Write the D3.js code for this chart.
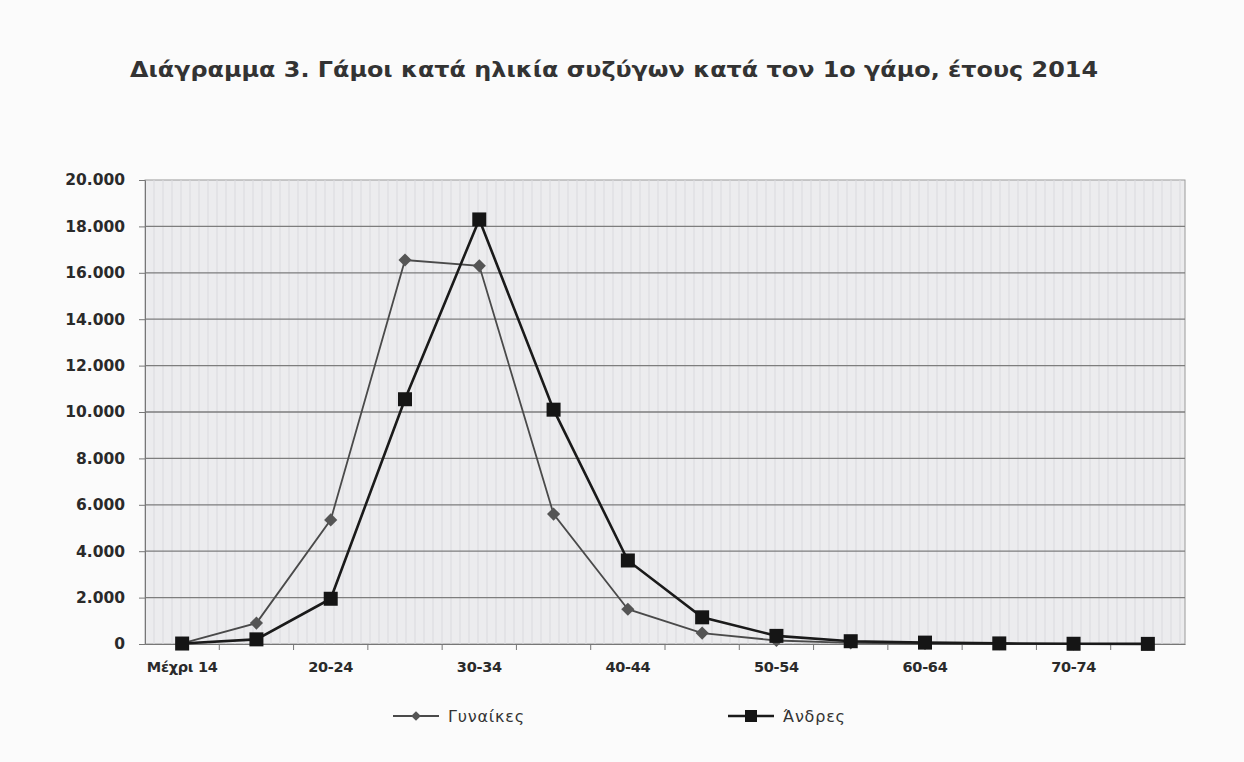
<!DOCTYPE html>
<html><head><meta charset="utf-8">
<script src="https://cdn.jsdelivr.net/npm/d3@7"></script>
<style>body{margin:0;background:#fafafa;} svg{display:block;}</style>
</head><body>
<script>
const categories = ["Μέχρι 14","15-19","20-24","25-29","30-34","35-39","40-44","45-49","50-54","55-59","60-64","65-69","70-74","75+"];
const tickLabels = ["Μέχρι 14","","20-24","","30-34","","40-44","","50-54","","60-64","","70-74",""];
const women = [30, 900, 5350, 16550, 16300, 5600, 1500, 470, 150, 50, 20, 10, 5, 3];
const men = [20, 200, 1950, 10550, 18300, 10100, 3600, 1150, 350, 120, 60, 25, 10, 5];
const yTicks = [0,2000,4000,6000,8000,10000,12000,14000,16000,18000,20000];
const seriesNames = ["Γυναίκες","Άνδρες"];
const title = "Διάγραμμα 3. Γάμοι κατά ηλικία συζύγων κατά τον 1ο γάμο, έτους 2014";

const FONT="DejaVu Sans, Verdana, sans-serif";
const W=1244,H=762;
const m={left:145,top:180,right:1244-1185,bottom:762-644};
const svg=d3.select("body").append("svg").attr("width",W).attr("height",H);
svg.append("rect").attr("width",W).attr("height",H).attr("fill","#fbfbfb");
const iw=W-m.left-m.right, ih=H-m.top-m.bottom;
const g=svg.append("g").attr("transform",`translate(${m.left},${m.top})`);
const x=d3.scaleBand().domain(categories).range([0,iw]);
const y=d3.scaleLinear().domain([0,20000]).range([ih,0]);

g.append("rect").attr("width",iw).attr("height",ih).attr("fill","#ececee").attr("stroke","#9a9a9a");
const tex=d3.range(0,iw,9);
g.selectAll(".tex").data(tex).enter().append("line")
 .attr("x1",d=>d).attr("x2",d=>d).attr("y1",0).attr("y2",ih)
 .attr("stroke","#dadade").attr("stroke-width",1);
g.selectAll(".grid").data(yTicks.slice(1,-1)).enter().append("line")
 .attr("x1",0).attr("x2",iw).attr("y1",d=>y(d)).attr("y2",d=>y(d))
 .attr("stroke","#7d7d7d").attr("stroke-width",1.3);

const fmt=d=>d3.format(",")(d).replace(/,/g,".");
const ya=g.append("g").call(d3.axisLeft(y).tickValues(yTicks).tickFormat(fmt).tickSize(6).tickPadding(14));
ya.select(".domain").attr("stroke","#777");
ya.selectAll(".tick line").attr("stroke","#777");
ya.selectAll("text").attr("font-family",FONT).attr("font-size",15.5).attr("font-weight","bold").attr("fill","#2a2a2a");

const xa=g.append("g").attr("transform",`translate(0,${ih})`)
 .call(d3.axisBottom(x).tickFormat((d,i)=>tickLabels[i]).tickSize(0).tickPadding(18));
xa.select(".domain").attr("stroke","#777");
xa.selectAll("text").attr("font-family",FONT).attr("font-size",14.5).attr("font-weight","bold").attr("fill","#2a2a2a").attr("letter-spacing","-0.3");
g.selectAll(".bt").data(categories.slice(1)).enter().append("line")
 .attr("x1",d=>x(d)).attr("x2",d=>x(d)).attr("y1",ih).attr("y2",ih+6).attr("stroke","#777");

const line=d3.line().x((d,i)=>x(categories[i])+x.bandwidth()/2).y(d=>y(d));
g.append("path").datum(women).attr("d",line).attr("fill","none").attr("stroke","#4a4a4a").attr("stroke-width",1.8);
g.append("path").datum(men).attr("d",line).attr("fill","none").attr("stroke","#1a1a1a").attr("stroke-width",2.6);
const diamond=d3.symbol().type(d3.symbolDiamond2).size(110);
g.selectAll(".wm").data(women).enter().append("path")
 .attr("d",diamond).attr("transform",(d,i)=>`translate(${x(categories[i])+x.bandwidth()/2},${y(d)})`)
 .attr("fill","#555");
g.selectAll(".mm").data(men).enter().append("rect")
 .attr("x",(d,i)=>x(categories[i])+x.bandwidth()/2-7).attr("y",d=>y(d)-7)
 .attr("width",14).attr("height",14).attr("fill","#151515");

svg.append("text").attr("x",130).attr("y",77)
 .attr("font-family",FONT).attr("font-size",21).attr("font-weight","bold").attr("fill","#333")
 .attr("textLength",968).attr("lengthAdjust","spacingAndGlyphs").text(title);

const lg=[{x:393,name:seriesNames[0],t:"w"},{x:728,name:seriesNames[1],t:"m"}];
lg.forEach(l=>{
  const yy=716;
  svg.append("line").attr("x1",l.x).attr("x2",l.x+46).attr("y1",yy).attr("y2",yy)
   .attr("stroke",l.t=="w"?"#4a4a4a":"#1a1a1a").attr("stroke-width",l.t=="w"?1.8:2.6);
  if(l.t=="w") svg.append("path").attr("d",d3.symbol().type(d3.symbolDiamond2).size(60)).attr("transform",`translate(${l.x+23},${yy})`).attr("fill","#555");
  else svg.append("rect").attr("x",l.x+23-6).attr("y",yy-6).attr("width",12).attr("height",12).attr("fill","#151515");
  svg.append("text").attr("x",l.x+55).attr("y",yy+6).attr("font-family",FONT).attr("font-size",16).attr("fill","#333").attr("letter-spacing","0.8").text(l.name);
});
</script>
</body></html>
